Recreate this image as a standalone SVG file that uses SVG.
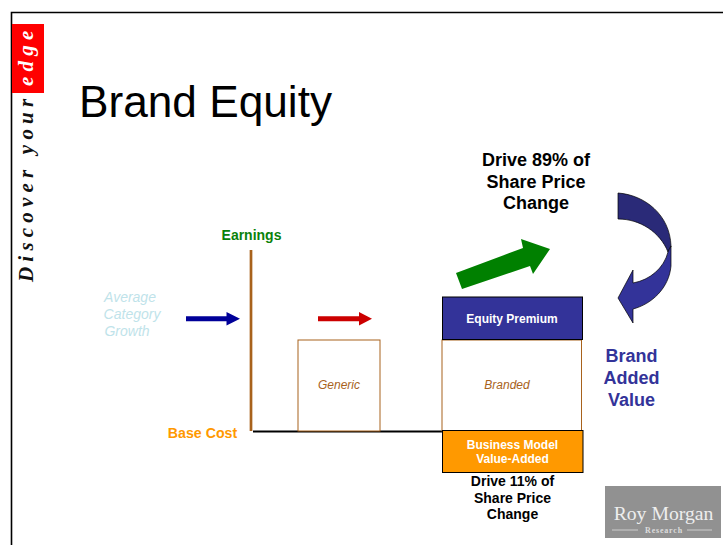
<svg xmlns="http://www.w3.org/2000/svg" width="723" height="545" viewBox="0 0 723 545">
<style>
text{font-family:"Liberation Sans",Arial,sans-serif}
.b{font-weight:bold}
.m{text-anchor:middle}
.i{font-style:italic}
.br{fill:#a8621c;font-size:12px;font-style:italic;text-anchor:middle}
.side{font-family:"Liberation Serif","Times New Roman",serif;font-style:italic;font-weight:bold;font-size:21px;letter-spacing:5.2px}
.serif{font-family:"Liberation Serif","Times New Roman",serif}
</style>
<rect width="723" height="545" fill="#fff"/>
<path d="M11.500 545V12.500H723" fill="none" stroke="#000" stroke-width="1.600"/>
<g id="side-tab">
<rect x="12" y="24" width="32" height="69" fill="#f00"/>
<text class="side" transform="translate(33,282) rotate(-90)" fill="#111">Discover your</text>
<text class="side" transform="translate(33,86) rotate(-90)" fill="#fff">edge</text>
</g>
<text id="title" x="79" y="116.500" font-size="44.200" fill="#000">Brand Equity</text>
<g id="connectors">
<path d="M251 250V431" stroke="#a8621c" stroke-width="2.700" fill="none"/>
<path d="M253 431.500H442" stroke="#000" stroke-width="2" fill="none"/>
<path d="M186 316.200H226.500V312L240 318.700L226.500 325.500V321.200H186Z" fill="#000099"/>
<path d="M318 316.200H359V312L372 318.700L359 325.500V321.200H318Z" fill="#cc0000"/>
<path d="M456 273L523 248L521 239L550 249L533 274L530 266L462 289Z" fill="#008000"/>
<path d="M618 193C645 195 670 215 671 246L668 252C660 232 640 219 618 219Z" fill="#2a2a78" stroke="#000" stroke-width="0.700"/>
<path d="M668 252C669 249 671 247 671 246V266C669 288 652 304 633 309V323L618 298L633 270V283C650 280 664 268 668 252Z" fill="#333399" stroke="#000" stroke-width="0.700"/>
</g>
<g id="earnings"><text class="b m" x="251.500" y="240" font-size="14" fill="#0a820a">Earnings</text></g>
<g id="average"><text class="i m" x="130" y="302" font-size="14" fill="#bfe3ea">Average</text><text class="i m" x="132" y="319" font-size="14" fill="#bfe3ea">Category</text><text class="i m" x="127" y="336" font-size="14" fill="#bfe3ea">Growth</text></g>
<g id="base-cost"><text class="b m" x="202.500" y="438" font-size="14.200" fill="#ff9900">Base Cost</text></g>
<g id="generic"><rect x="298" y="340" width="82" height="91" fill="#fff" stroke="#a8621c" stroke-width="1"/><text class="br" x="339" y="389">Generic</text></g>
<g id="branded"><rect x="442" y="340" width="139.500" height="91" fill="#fff" stroke="#a8621c" stroke-width="1"/><text class="br" x="507" y="389">Branded</text></g>
<g id="equity-premium"><rect x="442.500" y="297" width="140" height="42.500" fill="#333399" stroke="#000" stroke-width="1"/><text class="b m" x="512" y="323" font-size="12" fill="#fff">Equity Premium</text></g>
<g id="business-model"><rect x="442.500" y="430.500" width="140.500" height="42" fill="#ff9900" stroke="#000" stroke-width="1"/><text class="b m" x="512.500" y="449" font-size="12" fill="#fff">Business Model</text><text class="b m" x="512.500" y="463" font-size="12" fill="#fff">Value-Added</text></g>
<g id="drive-89"><text class="b m" x="536" y="166" font-size="18" fill="#000">Drive 89% of</text><text class="b m" x="536" y="187.500" font-size="18" fill="#000">Share Price</text><text class="b m" x="536" y="209" font-size="18" fill="#000">Change</text></g>
<g id="drive-11"><text class="b m" x="512.500" y="486" font-size="14" fill="#000">Drive 11% of</text><text class="b m" x="512.500" y="503" font-size="14" fill="#000">Share Price</text><text class="b m" x="512.500" y="519" font-size="14" fill="#000">Change</text></g>
<g id="brand-added"><text class="b m" x="631.500" y="362" font-size="18" fill="#333399">Brand</text><text class="b m" x="631.500" y="384" font-size="18" fill="#333399">Added</text><text class="b m" x="631.500" y="406" font-size="18" fill="#333399">Value</text></g>
<g id="logo"><rect x="605" y="486" width="116" height="52" fill="#919191"/><text class="serif" x="663.500" y="520" font-size="19.700" fill="#eee" text-anchor="middle">Roy Morgan</text><text class="serif" x="664" y="533" font-size="8" font-weight="bold" letter-spacing="0.800" fill="#ddd" text-anchor="middle">Research</text><path d="M612 530H638M687 530H712" stroke="#ddd" stroke-width="0.800"/></g>
</svg>
